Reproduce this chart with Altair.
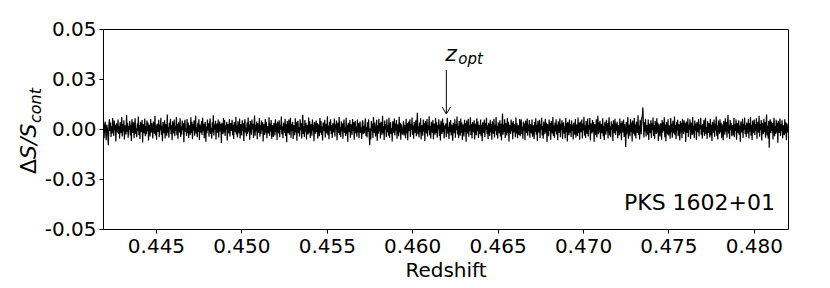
import altair as alt
import pandas as pd
import numpy as np

# Redshift range of the spectrum
z_first = 0.4419
z_last = 0.4820

# Residual spectrum dS/S_cont, read left to right (16 stretches), in units of `unit`
unit = 1.2e-4
s00 = [-15, 22, -38, 9, 31, -12, -47, 18, 5, -26, -68, 14, 40, -8, 27, -33, 11, -19, 46, 3, -29, 35, -6, 17, -52, 24, 8, -14, 39, -21, 13, -40, 29, 2, -17, 50, -31, 20, -9, 36, -44, 15, 6, -23, 58, -11, 26, -36, 12, -4, 33, -27, 19, -50, 41, 7, -16, 28, -38, 10, 45, -20, 3, -34, 23, -7, 52, -25, 16, -42, 30, 9, -13, 37, -56, 21, 4, -18, 44, -30]
s01 = [12, -22, 35, -9, 27, -48, 18, 6, -31, 42, -14, 25, -3, -39, 31, 10, -20, 54, -27, 15, -45, 22, 8, -12, 38, -34, 19, -6, 47, -24, 13, -51, 29, 4, -17, 36, -40, 21, 11, -28, 60, -15, 7, -36, 26, -2, 43, -22, 16, -47, 32, 9, -19, 39, -30, 14, -8, 50, -26, 20, -41, 28, 5, -14, 45, -33, 11, -23, 35, -5, 24, -55, 17, 38, -12, 3, -29, 42, -18, 27]
s02 = [-37, 15, 6, -24, 49, -16, 30, -43, 21, -7, 36, -28, 12, 55, -20, 8, -34, 26, -11, 41, -46, 18, 3, -15, 33, -25, 47, -9, 22, -38, 14, 29, -53, 10, -18, 39, -6, 24, -32, 17, 44, -21, 5, -40, 28, -13, 57, -27, 19, -4, 34, -44, 12, 23, -16, 40, -35, 8, 31, -10, 20, -58, 26, 6, -22, 46, -14, 37, -29, 15, -3, 30, -48, 21, 9, -19, 42, -31, 13, 25]
s03 = [-8, 38, -26, 17, -42, 29, 7, -13, 51, -23, 14, -35, 32, 2, -18, 44, -39, 20, 11, -27, 36, -7, 24, -50, 16, 41, -15, 6, -30, 27, -20, 48, -11, 19, -45, 33, 9, -24, 39, -2, 22, -37, 13, 56, -28, 18, -9, 31, -43, 25, 4, -16, 46, -32, 15, -21, 35, -6, 28, -52, 20, 10, -25, 42, -14, 30, -38, 12, 3, -19, 49, -29, 23, -10, 37, -41, 16, 7, -33, 26]
s04 = [14, -27, 40, -12, 23, -46, 31, 5, -19, 36, -34, 18, -4, 52, -22, 11, -38, 27, 8, -15, 43, -29, 20, -55, 33, 2, -17, 39, -24, 13, 47, -36, 22, -8, 30, -42, 16, 6, -26, 45, -13, 28, -49, 19, 34, -18, 9, -31, 41, -5, 24, -39, 15, 59, -21, 12, -33, 37, -11, 26, -44, 17, 3, -23, 48, -16, 32, -37, 10, 21, -28, 40, -7, 18, -51, 29, 13, -20, 35, -12]
s05 = [25, -40, 19, 7, -30, 46, -15, 33, -24, 11, -48, 28, 16, -9, 38, -35, 22, 4, -19, 53, -26, 14, -43, 30, -6, 41, -21, 17, -37, 24, 9, -14, 44, -31, 20, -2, 35, -47, 13, 27, -18, 50, -25, 8, -34, 32, -10, 23, -41, 15, 39, -16, 6, -29, 47, -22, 18, -53, 26, 11, -13, 37, -36, 21, 3, -24, 42, -8, 29, -45, 16, 34, -19, 10, -32, 40, -14, 25, -38, 12]
s06 = [31, -17, 7, -42, 24, 36, -22, 13, -18, 19, 45, -29, 9, -35, 28, -12, 40, -26, -68, 3, -44, 33, -8, 22, -37, 50, -15, 27, -5, -31, 18, 38, -49, 14, -20, 43, -10, 25, -39, 30, 6, -24, 55, -18, 12, -46, 35, -3, 21, -33, 41, -13, 17, -28, 47, -36, 10, 29, -21, 4, -52, 32, 15, -16, 44, -27, 23, -7, 37, -41, 19, 8, -30, 51, -14, 26, -45, 20, 2, -23]
s07 = [-12, 34, -27, 18, 6, -38, 43, -19, 25, -47, 12, 31, -9, 40, -33, 21, -4, 48, -25, 14, -41, 29, 7, -16, 36, -30, 20, 68, -22, 11, -35, 27, -13, 45, -44, 16, 3, -28, 39, -10, 24, -50, 33, 9, -19, 42, -31, 17, -6, 53, -26, 13, -39, 30, 5, -15, 37, -43, 22, 10, -24, 46, -17, 28, -36, 15, -2, 41, -29, 19, -48, 34, 8, -21, 44, -12, 26, -40, 14, 1]
s08 = [23, -34, 15, 47, -20, 9, -42, 30, -13, 37, -27, 18, 4, -49, 26, 12, -17, 41, -36, 21, -5, 52, -23, 14, -38, 33, 8, -28, 44, -15, 27, -46, 19, 2, -31, 38, -11, 24, -53, 35, 10, -19, 43, -32, 16, -7, 49, -25, 20, -40, 29, 6, -14, 36, -44, 22, 13, -26, 45, -9, 31, -37, 17, 4, -22, 40, -30, 18, -51, 28, 11, -16, 39, -33, 25, -3, 47, -21, 15, -42]
s09 = [26, 9, -29, 38, -14, 21, -45, 32, 5, -20, 43, -35, 17, -7, 50, -26, 13, -40, 28, 11, -18, 36, -31, 22, -48, 14, 64, -24, 19, -12, 41, -37, 25, 3, -27, 46, -16, 30, -52, 18, 8, -21, 39, -9, 27, -43, 33, -14, 20, 6, -34, 48, -19, 24, -38, 15, 1, -25, 42, -30, 17, 40, -22, 10, -41, 31, -6, 23, -47, 35, 12, -17, 44, -28, 19, -9, 37, -36, 21, 4]
s10 = [-19, 40, -32, 16, 7, -43, 29, -11, 45, -24, 18, -50, 34, 10, -15, 38, -37, 21, -3, 47, -27, 13, -41, 31, 6, -22, 43, -14, 26, -54, 20, 12, -30, 39, -8, 24, -45, 33, 2, -18, 50, -29, 15, -36, 27, -10, 41, -23, 19, -47, 32, 9, -16, 44, -34, 22, -5, 36, -42, 17, 28, -20, 11, -39, 46, -13, 25, -52, 30, 7, -26, 40, -15, 21, -33, 35, -8, 18, -44, 27]
s11 = [13, -24, 42, -36, 19, 5, -29, 48, -17, 26, -45, 31, 8, -13, 39, -40, 22, -6, 51, -28, 15, -37, 33, 10, -21, 44, -31, 18, -2, 46, -48, 24, 12, -19, 37, -11, 29, -53, 20, 3, -26, 41, -35, 16, 55, -22, 27, -14, 34, -42, 21, 9, -17, 45, -30, 13, -46, 30, 6, -24, 38, -9, 25, -39, 17, 49, -27, 11, -34, 32, -4, 20, -50, 36, 14, -18, 43, -25, 23, -7]
s12 = [30, -38, 16, 5, -27, 44, -19, 24, -47, 33, 10, -14, 39, -33, 21, -8, -75, 29, -23, 15, 50, -41, 18, 7, -30, 42, -12, 27, -52, 35, 3, -20, 46, -28, 19, -39, 31, 11, -16, 57, -25, 14, -44, 38, 9, -22, 47, 52, 90, 20, -35, 28, -10, 43, -31, 17, 6, -24, 40, -46, 22, 13, -18, 36, -37, 25, -5, 48, -29, 16, -42, 33, 8, -21, 45, -14, 26, -50, 19, 2]
s13 = [-31, 24, 12, -45, 37, -16, 28, -9, 49, -34, 19, -51, 30, 6, -23, 41, -27, 15, 3, -40, 46, -13, 22, -36, 34, 9, -19, 52, -26, 17, -43, 29, -6, 38, -30, 20, 11, -48, 33, -15, 26, -38, 43, 5, -21, 36, -11, 24, -54, 31, 14, -17, 45, -33, 18, -4, 40, -42, 27, 8, -25, 50, -20, 13, -37, 35, -8, 22, -46, 29, 10, -14, 42, -31, 19, -2, 47, -24, 16, -39]
s14 = [21, -12, 38, -29, 14, 47, -22, 8, -41, 32, -17, 25, 4, -35, 43, -26, 18, -50, 30, 11, -15, 39, -32, 23, -6, 52, -28, 16, -44, 35, 7, -20, 41, -13, 27, -38, 19, 2, -47, 33, 12, -24, 45, -10, 29, -36, 21, 58, -19, 14, -42, 37, -5, 24, -30, 17, 9, -27, 46, -34, 20, -8, 40, -45, 26, 13, -18, 36, -25, 15, -53, 31, 6, -14, 43, -37, 22, -3, 48, -21]
s15 = [16, -33, 27, 9, -20, 42, -39, 24, -11, 50, -28, 18, -46, 35, 5, -17, 39, -25, 21, -7, 45, -41, 13, 30, -15, 55, -32, 20, -4, 37, -48, 26, 11, -22, 43, -13, 28, -36, 17, 60, -27, 14, -40, 33, -78, 22, 40, -18, 31, -8, 25, -44, 19, 47, -30, 12, -21, 38, -14, 26, -57, 34, 7, -16, 44, -29, 21, -9, 36, -38, 15, 3, -26, 41, -19, 28, -47, 23, 10, -15]

x_ticks = [0.445, 0.450, 0.455, 0.460, 0.465, 0.470, 0.475, 0.480]
y_ticks = [-0.05, -0.025, 0.0, 0.025, 0.05]

z_opt = 0.462
source_name = "PKS 1602+01"

resid = np.array(s00 + s01 + s02 + s03 + s04 + s05 + s06 + s07 +
                 s08 + s09 + s10 + s11 + s12 + s13 + s14 + s15) * unit
z = np.linspace(z_first, z_last, len(resid))
spec = pd.DataFrame({"z": z, "s": resid})

FONT = "DejaVu Sans"
xs = alt.Scale(domain=[z_first, z_last], nice=False, zero=False)
ys = alt.Scale(domain=[-0.05, 0.05], nice=False)

line = alt.Chart(spec).mark_line(color="black", strokeWidth=1.2, clip=True).encode(
    x=alt.X("z:Q", scale=xs,
            axis=alt.Axis(values=x_ticks, format=".3f", title="Redshift")),
    y=alt.Y("s:Q", scale=ys,
            axis=alt.Axis(values=y_ticks, title=None,
                          labelExpr="datum.value < 0 ? '-' + format(-datum.value, '.2f') : format(datum.value, '.2f')")),
)

ann = pd.DataFrame({"z": [z_opt], "top": [0.0295], "tip": [0.0075],
                    "zy": [0.034], "oy": [0.0325]})
arrow = alt.Chart(ann).mark_rule(color="black", strokeWidth=1).encode(
    x="z:Q", y="top:Q", y2="tip:Q")
head = alt.Chart(ann).mark_point(
    shape="M-0.6,-1L0,0L0.6,-1", filled=False, color="black", strokeWidth=1,
    size=200, opacity=1).encode(x="z:Q", y="tip:Q")
zt = alt.Chart(ann).mark_text(text="z", font=FONT, fontSize=22, fontStyle="italic",
                              align="left", baseline="alphabetic", dx=-1).encode(x="z:Q", y="zy:Q")
ot = alt.Chart(ann).mark_text(text="opt", font=FONT, fontSize=15, fontStyle="italic",
                              align="left", baseline="alphabetic", dx=12).encode(x="z:Q", y="oy:Q")

lab = pd.DataFrame({"z": [0.48124], "y": [-0.0405], "t": [source_name]})
pks = alt.Chart(lab).mark_text(font=FONT, fontSize=22, align="right",
                               baseline="alphabetic").encode(x="z:Q", y="y:Q", text="t:N")

one = pd.DataFrame({"k": [0]})
yt1 = alt.Chart(one).mark_text(text="Δ", font=FONT, fontSize=22, angle=270, align="left",
                               baseline="alphabetic").encode(x=alt.value(-67), y=alt.value(145))
yt2 = alt.Chart(one).mark_text(text="S/S", font=FONT, fontSize=22, fontStyle="italic", angle=270,
                               align="left", baseline="alphabetic").encode(x=alt.value(-67), y=alt.value(130))
yt3 = alt.Chart(one).mark_text(text="cont", font=FONT, fontSize=16, fontStyle="italic", angle=270,
                               align="left", baseline="alphabetic").encode(x=alt.value(-62), y=alt.value(94))

chart = alt.layer(line, arrow, head, zt, ot, pks, yt1, yt2, yt3).properties(
    width=685, height=200,
    autosize=alt.AutoSizeParams(type="none"),
    padding={"left": 95, "top": 21, "right": 34, "bottom": 51},
).configure_view(stroke="black", strokeWidth=1).configure_axis(
    grid=False, domain=False, ticks=True, tickColor="black", tickSize=4, tickWidth=1,
    labelFont=FONT, labelFontSize=20, labelColor="black", labelPadding=3,
    titleFont=FONT, titleFontSize=20, titleFontWeight="normal", titleColor="black", titlePadding=4,
    labelFlush=False, labelOverlap=False,
)

chart.save("out.html", embed_options={"renderer": "svg", "actions": False})
